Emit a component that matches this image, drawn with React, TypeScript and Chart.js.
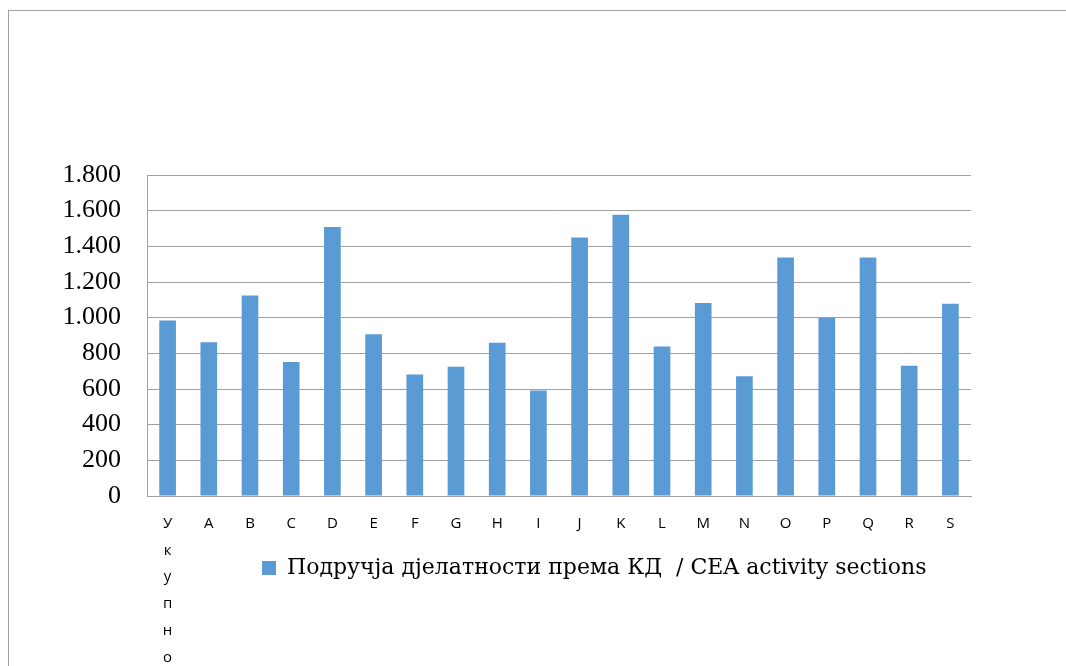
import React, { useEffect, useRef } from "react";
import { Chart, registerables } from "chart.js";

Chart.register(...registerables);

const categories: (string | string[])[] = [
  ["У", "к", "у", "п", "н", "о"],
  "A", "B", "C", "D", "E", "F", "G", "H", "I", "J", "K", "L", "M", "N", "O", "P", "Q", "R", "S",
];

const values: number[] = [
  984, 862, 1125, 752, 1509, 907, 682, 725, 859, 591, 1450, 1577, 838, 1082, 671, 1337, 998, 1337, 731, 1078,
];

const seriesLabel = "Подручја дјелатности према КД  / CEA activity sections";

const yMin = 0;
const yMax = 1800;
const yStep = 200;

const barColor = "#5B9BD5";
const gridColor = "#a0a0a0";

function formatThousands(v: number): string {
  return String(Math.round(v)).replace(/\B(?=(\d{3})+(?!\d))/g, ".");
}

const layoutTweaks = {
  id: "layoutTweaks",
  afterLayout(chart: any) {
    const lg = chart.legend;
    if (lg) {
      lg.left = 243;
    }
    const x = chart.scales.x;
    if (x) {
      // let the stacked first category label run below the axis box
      x.bottom = chart.height;
    }
  },
};

export default function App() {
  const ref = useRef<HTMLCanvasElement | null>(null);

  useEffect(() => {
    if (!ref.current) return;
    const chart = new Chart(ref.current, {
      type: "bar",
      data: {
        labels: categories as any,
        datasets: [
          {
            label: seriesLabel,
            data: values,
            backgroundColor: barColor,
            borderWidth: 0,
            categoryPercentage: 1,
            barPercentage: 0.405,
          },
        ],
      },
      options: {
        animation: false,
        responsive: true,
        maintainAspectRatio: false,
        layout: { padding: { top: 164, left: 0, right: 95, bottom: 77 } },
        plugins: {
          tooltip: { enabled: false },
          legend: {
            position: "bottom",
            align: "start",
            labels: {
              boxWidth: 14,
              boxHeight: 14,
              padding: 10,
              color: "#000",
              font: { family: "'DejaVu Serif', serif", size: 22 },
            },
          },
        },
        scales: {
          x: {
            grid: { display: false, drawTicks: false },
            border: { display: true, color: gridColor, width: 1 },
            ticks: {
              color: "#000",
              padding: 14,
              maxRotation: 0,
              autoSkip: false,
              font: { family: "'Open Sans', sans-serif", size: 15, lineHeight: 1.79 },
            },
            afterFit: (scale: any) => {
              scale.height = 51;
            },
          },
          y: {
            min: yMin,
            max: yMax,
            grid: { color: gridColor, lineWidth: 1, drawTicks: false },
            border: { display: true, color: gridColor, width: 1 },
            ticks: {
              stepSize: yStep,
              color: "#000",
              padding: 26,
              font: { family: "'Liberation Serif', serif", size: 26 },
              callback: (v: any) => formatThousands(Number(v)),
            },
            afterFit: (scale: any) => {
              scale.width = 138;
            },
          },
        },
      },
      plugins: [layoutTweaks],
    });
    return () => chart.destroy();
  }, []);

  return (
    <div
      style={{
        position: "absolute",
        left: 8,
        top: 10,
        width: 1058,
        height: 656,
        borderTop: "1px solid #a0a0a0",
        borderLeft: "1px solid #a0a0a0",
        background: "#fff",
        boxSizing: "border-box",
      }}
    >
      <div style={{ position: "absolute", left: 0, top: 0, width: 1057, height: 655 }}>
        <canvas ref={ref} />
      </div>
    </div>
  );
}
